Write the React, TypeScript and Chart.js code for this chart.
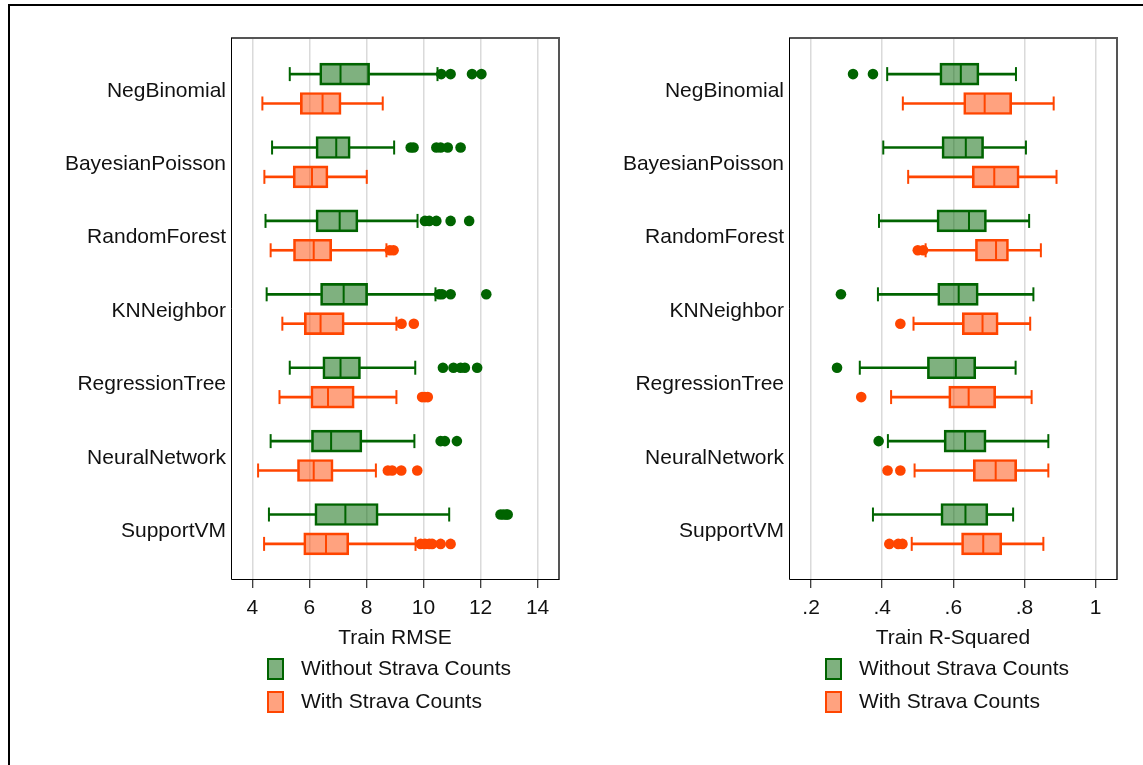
import React, { useEffect, useRef } from "react";
import { Chart, registerables } from "chart.js";

Chart.register(...registerables);

const FONT = '"Liberation Sans", Arial, Helvetica, sans-serif';

const categories = [
  "NegBinomial",
  "BayesianPoisson",
  "RandomForest",
  "KNNeighbor",
  "RegressionTree",
  "NeuralNetwork",
  "SupportVM",
];
const seriesNames = ["Without Strava Counts", "With Strava Counts"];

// box stats: [lower whisker, Q1, median, Q3, upper whisker]
const rmseWithoutStats = [
  [5.31, 6.36, 7.09, 8.11, 10.49],
  [4.69, 6.23, 6.94, 7.43, 8.97],
  [4.46, 6.23, 7.06, 7.7, 9.79],
  [4.5, 6.39, 7.2, 8.04, 10.42],
  [5.31, 6.47, 7.09, 7.79, 9.71],
  [4.64, 6.07, 6.76, 7.84, 9.68],
  [4.58, 6.19, 7.26, 8.41, 10.9],
];
const rmseWithoutOutliers = [
  [10.62, 10.95, 11.7, 12.03],
  [9.55, 9.65, 10.45, 10.6, 10.85, 11.3],
  [10.05, 10.2, 10.45, 10.95, 11.6],
  [10.55, 10.65, 10.95, 12.2],
  [10.68, 11.05, 11.3, 11.45, 11.88],
  [10.6, 10.75, 11.17],
  [12.7, 12.8, 12.9, 12.95],
];
const rmseWithStats = [
  [4.35, 5.68, 6.46, 7.11, 8.57],
  [4.42, 5.43, 6.09, 6.65, 8.01],
  [4.64, 5.44, 6.15, 6.78, 8.7],
  [5.05, 5.82, 6.39, 7.22, 9.05],
  [4.95, 6.05, 6.65, 7.57, 9.05],
  [4.2, 5.58, 6.15, 6.83, 8.33],
  [4.41, 5.8, 6.58, 7.38, 9.72],
];
const rmseWithOutliers = [
  [],
  [],
  [8.82, 8.95],
  [9.23, 9.66],
  [9.95, 10.05, 10.15],
  [8.75, 8.9, 9.22, 9.78],
  [9.9, 10.05, 10.2, 10.3, 10.6, 10.95],
];

const r2WithoutStats = [
  [0.414, 0.562, 0.621, 0.672, 0.776],
  [0.403, 0.568, 0.635, 0.685, 0.804],
  [0.391, 0.554, 0.644, 0.693, 0.813],
  [0.388, 0.556, 0.615, 0.67, 0.825],
  [0.337, 0.527, 0.607, 0.663, 0.775],
  [0.416, 0.574, 0.633, 0.692, 0.867],
  [0.374, 0.565, 0.634, 0.697, 0.768],
];
const r2WithoutOutliers = [
  [0.318, 0.374],
  [],
  [],
  [0.284],
  [0.273],
  [0.39],
  [],
];
const r2WithStats = [
  [0.458, 0.629, 0.688, 0.764, 0.882],
  [0.473, 0.653, 0.715, 0.785, 0.89],
  [0.522, 0.662, 0.72, 0.755, 0.846],
  [0.488, 0.625, 0.682, 0.726, 0.816],
  [0.425, 0.587, 0.643, 0.719, 0.82],
  [0.491, 0.656, 0.719, 0.778, 0.867],
  [0.483, 0.623, 0.684, 0.736, 0.853],
];
const r2WithOutliers = [
  [],
  [],
  [0.5, 0.515],
  [0.451],
  [0.341],
  [0.415, 0.451],
  [0.42, 0.445, 0.457],
];

const rmseTicks = [4, 6, 8, 10, 12, 14];
const rmseTickLabels = ["4", "6", "8", "10", "12", "14"];
const r2Ticks = [0.2, 0.4, 0.6, 0.8, 1];
const r2TickLabels = [".2", ".4", ".6", ".8", "1"];

const COLORS = [
  { line: "#006400", fill: "rgba(0,100,0,0.5)" },
  { line: "#ff4500", fill: "rgba(255,69,0,0.5)" },
];
const OFFSETS = [-0.2, 0.2];

function makeDatasets(groups: { stats: number[][]; outliers: number[][] }[]) {
  const ds: any[] = [];
  groups.forEach((g, s) => {
    const c = COLORS[s];
    const pos = (i: number) => i + OFFSETS[s];
    ds.push({
      type: "bar",
      indexAxis: "y",
      grouped: false,
      order: 6,
      barThickness: 2,
      backgroundColor: c.line,
      borderWidth: 0,
      data: g.stats.flatMap((st, i) => [
        { x: [st[0], st[1]], y: pos(i) },
        { x: [st[3], st[4]], y: pos(i) },
      ]),
    });
    ds.push({
      type: "bar",
      indexAxis: "y",
      grouped: false,
      order: 5,
      barThickness: 22,
      backgroundColor: c.fill,
      borderColor: c.line,
      borderWidth: 2,
      borderSkipped: false,
      data: g.stats.map((st, i) => ({ x: [st[1], st[3]], y: pos(i) })),
    });
    ds.push({
      type: "scatter",
      order: 2,
      pointStyle: "line",
      rotation: 90,
      radius: 7,
      borderColor: c.line,
      borderWidth: 2,
      data: g.stats.flatMap((st, i) => [
        { x: st[0], y: pos(i) },
        { x: st[4], y: pos(i) },
      ]),
    });
    ds.push({
      type: "scatter",
      order: 1,
      pointStyle: "line",
      rotation: 90,
      radius: 10,
      borderColor: c.line,
      borderWidth: 2,
      data: g.stats.map((st, i) => ({ x: st[2], y: pos(i) })),
    });
    ds.push({
      type: "scatter",
      order: 1,
      pointStyle: "circle",
      radius: 5.3,
      backgroundColor: c.line,
      borderColor: c.line,
      borderWidth: 0,
      data: g.outliers.flatMap((arr, i) => arr.map((v) => ({ x: v, y: pos(i) }))),
    });
  });
  return ds;
}

const framePlugin = {
  id: "frame",
  beforeDatasetsDraw(chart: any) {
    const { ctx, chartArea } = chart;
    const { left, right, top, bottom } = chartArea;
    ctx.save();
    ctx.strokeStyle = "#555";
    ctx.lineWidth = 2;
    ctx.beginPath();
    ctx.moveTo(left, top);
    ctx.lineTo(right, top);
    ctx.lineTo(right, bottom);
    ctx.stroke();
    ctx.strokeStyle = "#000";
    ctx.lineWidth = 1;
    ctx.beginPath();
    ctx.moveTo(left + 0.5, top);
    ctx.lineTo(left + 0.5, bottom - 0.5);
    ctx.lineTo(right, bottom - 0.5);
    ctx.stroke();
    ctx.restore();
  },
};

const legendPlugin = {
  id: "boxLegend",
  afterDraw(chart: any) {
    const { ctx, chartArea } = chart;
    const { left, bottom } = chartArea;
    ctx.save();
    seriesNames.forEach((name, s) => {
      const y = Math.round(bottom + 78 + s * 32.5);
      const x = Math.round(left + 36);
      ctx.fillStyle = "#fff";
      ctx.fillRect(x, y, 17, 22);
      ctx.fillStyle = COLORS[s].fill;
      ctx.fillRect(x, y, 17, 22);
      ctx.strokeStyle = COLORS[s].line;
      ctx.lineWidth = 2;
      ctx.strokeRect(x + 1, y + 1, 15, 20);
      ctx.fillStyle = "#111";
      ctx.font = `21px ${FONT}`;
      ctx.textBaseline = "middle";
      ctx.textAlign = "left";
      ctx.fillText(name, left + 70, y + 11);
    });
    ctx.restore();
  },
};

function makeConfig(opts: {
  groups: { stats: number[][]; outliers: number[][] }[];
  xMin: number;
  xMax: number;
  ticks: number[];
  tickLabels: string[];
  title: string;
  yWidth: number;
  padRight: number;
}): any {
  return {
    type: "bar",
    data: { datasets: makeDatasets(opts.groups) },
    plugins: [framePlugin, legendPlugin],
    options: {
      responsive: false,
      animation: false,
      events: [],
      layout: { padding: { left: 0, top: 38, right: opts.padRight, bottom: 114 } },
      plugins: { legend: { display: false }, tooltip: { enabled: false } },
      scales: {
        x: {
          type: "linear",
          position: "bottom",
          min: opts.xMin,
          max: opts.xMax,
          offset: false,
          afterBuildTicks: (scale: any) => {
            scale.ticks = opts.ticks.map((v) => ({ value: v }));
          },
          afterFit: (scale: any) => {
            scale.height = 71;
          },
          ticks: {
            autoSkip: false,
            maxRotation: 0,
            padding: 8,
            color: "#111",
            font: { family: FONT, size: 21 },
            callback: (_v: any, idx: number) => opts.tickLabels[idx],
          },
          grid: {
            offset: false,
            color: "#dadada",
            lineWidth: 1.5,
            drawTicks: true,
            tickLength: 8,
            tickColor: "#000",
            tickWidth: 1,
          },
          border: { display: false },
          title: {
            display: true,
            text: opts.title,
            color: "#111",
            font: { family: FONT, size: 21 },
            padding: { top: 0, bottom: 0 },
          },
        },
        y: {
          type: "linear",
          position: "left",
          reverse: true,
          min: -0.692,
          max: 6.692,
          offset: false,
          afterBuildTicks: (scale: any) => {
            scale.ticks = categories.map((_c, i) => ({ value: i }));
          },
          afterFit: (scale: any) => {
            scale.width = opts.yWidth;
          },
          ticks: {
            autoSkip: false,
            padding: 5,
            labelOffset: 2,
            color: "#111",
            font: { family: FONT, size: 21 },
            callback: (v: any) => categories[Math.round(Number(v))],
          },
          grid: { display: false, drawTicks: false, offset: false },
          border: { display: false },
        },
      },
    },
  };
}

export default function App() {
  const ref1 = useRef<HTMLCanvasElement>(null);
  const ref2 = useRef<HTMLCanvasElement>(null);

  useEffect(() => {
    const c1 = new Chart(
      ref1.current as HTMLCanvasElement,
      makeConfig({
        groups: [
          { stats: rmseWithoutStats, outliers: rmseWithoutOutliers },
          { stats: rmseWithStats, outliers: rmseWithOutliers },
        ],
        xMin: 3.25,
        xMax: 14.75,
        ticks: rmseTicks,
        tickLabels: rmseTickLabels,
        title: "Train RMSE",
        yWidth: 231,
        padRight: 12,
      })
    );
    const c2 = new Chart(
      ref2.current as HTMLCanvasElement,
      makeConfig({
        groups: [
          { stats: r2WithoutStats, outliers: r2WithoutOutliers },
          { stats: r2WithStats, outliers: r2WithOutliers },
        ],
        xMin: 0.138,
        xMax: 1.06,
        ticks: r2Ticks,
        tickLabels: r2TickLabels,
        title: "Train R-Squared",
        yWidth: 218,
        padRight: 26,
      })
    );
    return () => {
      c1.destroy();
      c2.destroy();
    };
  }, []);

  return (
    <div
      style={{
        position: "fixed",
        left: 0,
        top: 0,
        width: 1143,
        height: 765,
        overflow: "hidden",
        background: "#fff",
      }}
    >
      <div
        style={{
          position: "absolute",
          left: 8,
          top: 4,
          width: 1200,
          height: 900,
          border: "2px solid #000",
          boxSizing: "border-box",
        }}
      />
      <canvas
        ref={ref1}
        width={571}
        height={765}
        style={{ position: "absolute", left: 0, top: 0, display: "block" }}
      />
      <canvas
        ref={ref2}
        width={572}
        height={765}
        style={{ position: "absolute", left: 571, top: 0, display: "block" }}
      />
    </div>
  );
}
